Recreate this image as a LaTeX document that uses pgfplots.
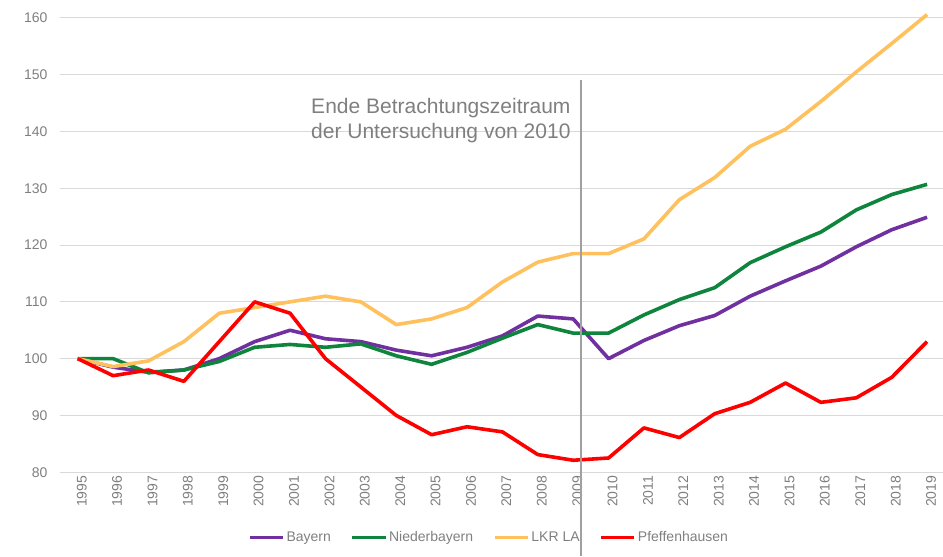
\documentclass[border=0pt]{standalone}
\usepackage{fontspec}
\setmainfont{Liberation Sans}
\usepackage{pgfplots}
\pgfplotsset{compat=1.18}
\definecolor{cBay}{HTML}{7030A0}
\definecolor{cNie}{HTML}{0E843C}
\definecolor{cLkr}{HTML}{FFC15E}
\definecolor{cPfe}{HTML}{FF0000}
\definecolor{txt}{HTML}{7F7F7F}
\definecolor{grd}{HTML}{D9D9D9}
\definecolor{vline}{HTML}{A0A0A0}
\begin{document}
\begin{tikzpicture}
\begin{axis}[
  scale only axis, width=882.6pt, height=454pt,
  xmin=-0.5, xmax=24.45, ymin=80, ymax=160,
  clip=false,
  axis line style={draw=none},
  ytick={80,90,...,160}, xtick={0,...,24},
  xticklabels={1995,1996,1997,1998,1999,2000,2001,2002,2003,2004,2005,2006,2007,2008,2009,2010,2011,2012,2013,2014,2015,2016,2017,2018,2019},
  ymajorgrids, grid style={grd, line width=1pt},
  major tick length=0pt,
  tick label style={font=\fontsize{14}{16}\selectfont, text=txt},
  /pgf/number format/assume math mode=true,
  xticklabel style={rotate=90, anchor=east, yshift=-4pt},
  yticklabel style={anchor=east, xshift=-9pt},
  legend columns=4,
  legend style={at={(0.486,-0.143)}, anchor=center, draw=none, fill=none,
    font=\fontsize{14}{16}\selectfont, text=txt,
    nodes={inner xsep=2pt},
    /tikz/every even column/.append style={column sep=18pt}},
  legend image code/.code={\draw[#1, line width=3.2pt] (0pt,0pt) -- (33pt,0pt);},
  every axis plot/.append style={line width=3.6pt, line join=round, mark=none},
]
% x: 0 = 1995, ..., 24 = 2019
\addplot[cBay] coordinates {(0,100) (1,98.5) (2,97.6) (3,98) (4,100) (5,103) (6,105) (7,103.5) (8,103) (9,101.5) (10,100.5) (11,102) (12,104) (13,107.5) (14,107) (15,100) (16,103.2) (17,105.8) (18,107.6) (19,111) (20,113.7) (21,116.3) (22,119.7) (23,122.7) (24,124.9)};
\addlegendentry{Bayern}
\addplot[cNie] coordinates {(0,100) (1,100) (2,97.5) (3,98) (4,99.5) (5,102) (6,102.5) (7,102) (8,102.6) (9,100.5) (10,99) (11,101.1) (12,103.6) (13,106) (14,104.5) (15,104.5) (16,107.7) (17,110.4) (18,112.5) (19,116.9) (20,119.7) (21,122.3) (22,126.2) (23,128.9) (24,130.7)};
\addlegendentry{Niederbayern}
\addplot[cLkr] coordinates {(0,100) (1,98.6) (2,99.6) (3,103) (4,108) (5,109) (6,110) (7,111) (8,110) (9,106) (10,107) (11,109) (12,113.5) (13,117) (14,118.5) (15,118.5) (16,121.1) (17,128) (18,131.9) (19,137.4) (20,140.4) (21,145.3) (22,150.5) (23,155.5) (24,160.6)};
\addlegendentry{LKR LA}
\addplot[cPfe] coordinates {(0,100) (1,97) (2,98) (3,96) (4,103) (5,110) (6,108) (7,100) (8,95) (9,90) (10,86.6) (11,88) (12,87.1) (13,83.1) (14,82.1) (15,82.5) (16,87.8) (17,86.1) (18,90.3) (19,92.3) (20,95.7) (21,92.3) (22,93.1) (23,96.7) (24,103)};
\addlegendentry{Pfeffenhausen}
\draw[vline, line width=1.3pt] (axis cs:14.22,149.07) -- (axis cs:14.22,65.2);
\node[anchor=north east, align=right, inner sep=0pt, text=txt, font=\fontsize{21}{25}\selectfont] at (axis cs:13.93,145.9) {Ende Betrachtungszeitraum\\der Untersuchung von 2010};
\end{axis}
\pgfresetboundingbox
\path ([shift={(-60pt,-84pt)}]current axis.south west) rectangle ([shift={(0pt,18pt)}]current axis.north east);
\end{tikzpicture}
\end{document}
